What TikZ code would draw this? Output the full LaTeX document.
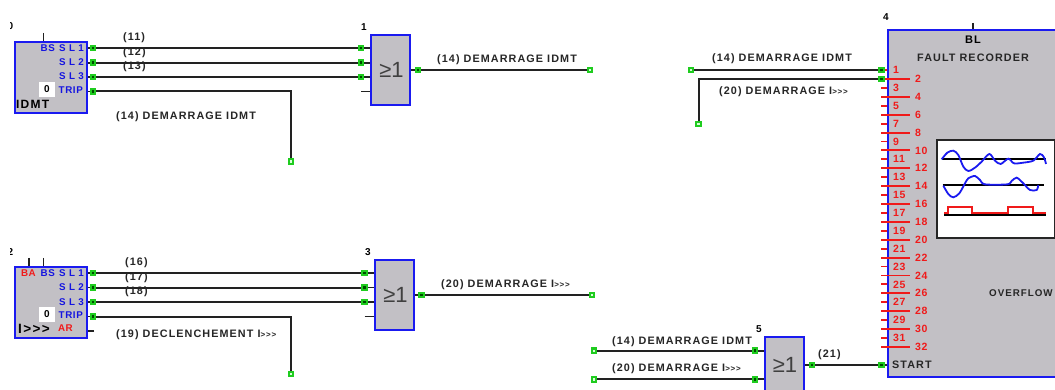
\documentclass[tikz,border=0pt]{standalone}
\usepackage{fontspec}
\setmainfont{Liberation Sans}
\newfontfamily\labfont[LetterSpace=10]{Liberation Sans Bold}
\newfontfamily\pinfont[LetterSpace=6]{Liberation Sans Bold}
\definecolor{blk}{HTML}{C2C0C5}
\definecolor{edgeblue}{HTML}{1A1AF0}
\definecolor{pinblue}{HTML}{1515E0}
\definecolor{pinred}{HTML}{F01A1A}
\definecolor{wire}{HTML}{222222}
\definecolor{pingreen}{HTML}{1FCC1F}
\newcommand{\ttt}{{\fontsize{8}{8}\selectfont >>>}}
\tikzset{
  x=1pt,y=-1pt,
  fblock/.style={draw=edgeblue,line width=2pt,fill=blk,inner sep=0pt,anchor=north west},
  wirel/.style={draw=wire,line width=2pt},
  stub/.style={draw=wire,line width=1.8pt},
  redstub/.style={draw=pinred,line width=1.9pt},
  pinsq/.style={rectangle,fill=pingreen,minimum size=6.5pt,inner sep=0pt,
    path picture={\fill[black!70!green] (-1.4pt,-1.4pt) rectangle (1.4pt,1.4pt);}},
  freeend/.style={rectangle,fill=pingreen,minimum size=6.5pt,inner sep=0pt,
    path picture={\fill[green!15] (-1.2pt,-1.2pt) rectangle (1.2pt,1.2pt);}},
  lab/.style={inner sep=0pt,anchor=west,text=black!85,font=\labfont\fontsize{10.8}{12}\selectfont},
  blue pin/.style={inner sep=0pt,anchor=east,text=pinblue,font=\pinfont\fontsize{9.8}{11}\selectfont},
  red pin/.style={inner sep=0pt,text=pinred,font=\pinfont\fontsize{10.5}{12}\selectfont},
  nr/.style={inner sep=0pt,text=black,font=\labfont\fontsize{10}{11}\selectfont},
  gatetxt/.style={inner sep=0pt,text=black!75,font=\fontsize{22}{24}\selectfont},
  zerobox/.style={fill=white,inner sep=0pt,minimum width=15.5pt,minimum height=15pt,text=black,font=\labfont\fontsize{10}{11}\selectfont},
  big/.style={inner sep=0pt,anchor=west,text=black,font=\labfont\fontsize{12}{13}\selectfont},
}
\begin{document}
\begin{tikzpicture}
\clip (0,0) rectangle (1055,390);
\fill[white] (0,0) rectangle (1055,390);

% ---- clipped block numbers at the left edge
\begin{scope}
  \clip (10,0) rectangle (20,390);
  \node[nr] (n0) at (10.5,26) {0};
  \node[nr] (n2) at (10.5,252) {2};
\end{scope}

% ---- block 0 (IDMT)
\draw[stub] (43.5,33) -- (43.5,41);
\node[fblock,minimum width=72pt,minimum height=71pt] (b0) at (14,41) {};
\node[zerobox] (z0) at (47,89.5) {0};
\node[blue pin] (t0a) at (55,48) {BS};
\node[blue pin] (t0b) at (84,48) {S L 1};
\node[blue pin] (t0c) at (84,62.5) {S L 2};
\node[blue pin] (t0d) at (84,76.5) {S L 3};
\node[blue pin] (t0e) at (83,90) {TRIP};
\node[big] (t0f) at (16,104) {IDMT};
\node[pinsq] (p01) at (93,48) {};
\node[pinsq] (p02) at (93,62.7) {};
\node[pinsq] (p03) at (93,77) {};
\node[pinsq] (p04) at (93,91.5) {};

% ---- gate 1
\node[nr] (n1) at (364,27) {1};
\node[fblock,minimum width=38.5pt,minimum height=70pt] (g1) at (370,34) {};
\node[gatetxt] (g1t) at (391.5,70) {≥1};
\node[pinsq] (g1a) at (361,48) {};
\node[pinsq] (g1b) at (361,62.7) {};
\node[pinsq] (g1c) at (361,77) {};
\node[pinsq] (g1o) at (418,70) {};
\node[freeend] (e1) at (590,70) {};
\coordinate (g1d) at (361,91.5);
\node[freeend] (e0) at (291,161.5) {};
\draw[wirel] (p01) -- (g1a);
\draw[wirel] (p02) -- (g1b);
\draw[wirel] (p03) -- (g1c);
\draw[wirel] (p04) -| (e0);
\draw[wirel] (g1o) -- (e1);
\draw[stub] (g1d) -- (g1d -| g1.west);
\foreach \p in {p01,p02,p03,p04} \draw[stub] (\p) -- (\p -| b0.east);
\foreach \p in {g1a,g1b,g1c} \draw[stub] (\p) -- (\p -| g1.west);
\draw[stub] (g1o) -- (g1o -| g1.east);
\node[lab] (l11) at (123,38) {(11)};
\node[lab] (l12) at (123,52.5) {(12)};
\node[lab] (l13) at (123,67) {(13)};
\node[lab] (l14a) at (116,117) {(14) DEMARRAGE IDMT};
\node[lab] (l14b) at (437,60) {(14) DEMARRAGE IDMT};

% ---- block 2 (I>>>)
\draw[stub] (29,258) -- (29,266);
\draw[stub] (43.5,258) -- (43.5,266);
\node[fblock,minimum width=72pt,minimum height=71pt] (b2) at (14,266) {};
\node[zerobox] (z2) at (47,314.5) {0};
\node[blue pin,text=pinred] (t2z) at (36,273) {BA};
\node[blue pin] (t2a) at (55,273) {BS};
\node[blue pin] (t2b) at (84,273) {S L 1};
\node[blue pin] (t2c) at (84,287.5) {S L 2};
\node[blue pin] (t2d) at (84,302) {S L 3};
\node[blue pin] (t2e) at (83,315) {TRIP};
\node[blue pin,text=pinred] (t2f) at (73,328.5) {AR};
\node[big,font=\labfont\fontsize{13.5}{14}\selectfont] (t2g) at (18,329) {I>>>};
\node[pinsq] (p21) at (93,273) {};
\node[pinsq] (p22) at (93,287.5) {};
\node[pinsq] (p23) at (93,302) {};
\node[pinsq] (p24) at (93,316.5) {};
\coordinate (p25) at (94,330.7);

% ---- gate 3
\node[nr] (n3) at (368,252) {3};
\node[fblock,minimum width=38.5pt,minimum height=70pt] (g3) at (374,259) {};
\node[gatetxt] (g3t) at (395.5,295) {≥1};
\node[pinsq] (g3a) at (364.7,273) {};
\node[pinsq] (g3b) at (364.7,287.5) {};
\node[pinsq] (g3c) at (364.7,302) {};
\node[pinsq] (g3o) at (421.7,295) {};
\node[freeend] (e3) at (592,295) {};
\coordinate (g3d) at (364.7,316.5);
\node[freeend] (e2) at (291,374) {};
\draw[wirel] (p21) -- (g3a);
\draw[wirel] (p22) -- (g3b);
\draw[wirel] (p23) -- (g3c);
\draw[wirel] (p24) -| (e2);
\draw[wirel] (g3o) -- (e3);
\draw[stub] (g3d) -- (g3d -| g3.west);
\draw[stub] (p25) -- (p25 -| b2.east);
\foreach \p in {p21,p22,p23,p24} \draw[stub] (\p) -- (\p -| b2.east);
\foreach \p in {g3a,g3b,g3c} \draw[stub] (\p) -- (\p -| g3.west);
\draw[stub] (g3o) -- (g3o -| g3.east);
\node[lab] (l16) at (125,263) {(16)};
\node[lab] (l17) at (125,277.5) {(17)};
\node[lab] (l18) at (125,292) {(18)};
\node[lab] (l19) at (116,335) {(19) DECLENCHEMENT I\ttt};
\node[lab] (l20a) at (441,285) {(20) DEMARRAGE I\ttt};

% ---- block 4 (fault recorder)
\draw[stub] (973,23) -- (973,29);
\node[nr] (n4) at (886,17) {4};
\node[fblock,minimum width=180pt,minimum height=346.7pt] (b4) at (887.3,29) {};
\node[nr,font=\labfont\fontsize{11}{12}\selectfont] (t4a) at (973,40) {BL};
\node[lab] (t4b) at (917,58) {FAULT RECORDER};
\node[lab,font=\labfont\fontsize{9.8}{11}\selectfont] (t4c) at (989,293) {OVERFLOW};
\node[lab] (t4d) at (892,365) {START};
\foreach \n in {1,3,...,31}{
  \pgfmathsetmacro{\py}{79+8.93*(\n-2)}
  \draw[redstub] (881,\py) -- (887,\py);
  \node[red pin,anchor=west] (r\n) at (893,\py) {\n};
}
\foreach \n in {2,4,...,32}{
  \pgfmathsetmacro{\py}{79+8.93*(\n-2)}
  \draw[redstub] (881,\py) -- (910,\py);
  \node[red pin,anchor=west] (r\n) at (915,\py) {\n};
}
\node[pinsq] (q1) at (881.7,70) {};
\node[pinsq] (q2) at (881.7,79) {};
\node[pinsq] (q3) at (881.7,365) {};
\draw[stub] (q3) -- (q3 -| b4.west);
\node[freeend] (e4) at (691,70) {};
\node[freeend] (e5) at (698.5,124) {};
\draw[wirel] (e4) -- (q1);
\draw[wirel] (e5) |- (q2);
\node[lab] (l14c) at (712,59) {(14) DEMARRAGE IDMT};
\node[lab] (l20b) at (719,92) {(20) DEMARRAGE I\ttt};

% recorder screen
\node[draw=black!85,line width=2pt,fill=white,inner sep=0pt,anchor=north west,minimum width=118pt,minimum height=98pt] (scr) at (936,139) {};
\begin{scope}[shift={(870,120)},x=0.3333pt,y=-0.3333pt]
  \draw[line width=1.7pt,black] (215,118) -- (528,118);
  \draw[line width=1.7pt,black] (218,195) -- (523,195);
  \draw[line width=1.9pt,black] (222,284) -- (528,284);
  \draw[line width=1.8pt,edgeblue] plot[smooth] coordinates {(215,118)(232,98)(250,92)(265,105)(280,140)(295,153)(315,143)(335,125)(358,102)(375,122)(392,132)(415,116)(432,130)(460,128)(490,122)(510,102)(522,112)(528,132)};
  \draw[line width=1.8pt,edgeblue] plot[smooth] coordinates {(220,197)(235,222)(250,232)(268,220)(285,190)(295,175)(315,168)(330,180)(345,193)(412,193)(425,183)(440,173)(460,190)(480,210)(500,210)(505,195)};
  \draw[line width=1.9pt,pinred] (222,280) -- (235,280) -- (235,260) -- (305,260) -- (305,280) -- (415,280) -- (415,260) -- (488,260) -- (488,280) -- (528,280);
\end{scope}

% ---- gate 5
\node[nr] (n5) at (759,329) {5};
\node[fblock,minimum width=38.5pt,minimum height=70pt] (g5) at (764,336) {};
\node[gatetxt] (g5t) at (785,365) {≥1};
\node[pinsq] (g5a) at (755,350.7) {};
\node[pinsq] (g5b) at (755,379.3) {};
\node[pinsq] (g5o) at (812,365) {};
\node[freeend] (e6) at (594,350.7) {};
\node[freeend] (e7) at (594,379.3) {};
\draw[wirel] (e6) -- (g5a);
\draw[wirel] (e7) -- (g5b);
\draw[wirel] (g5o) -- (q3);
\draw[stub] (g5a) -- (g5a -| g5.west);
\draw[stub] (g5b) -- (g5b -| g5.west);
\draw[stub] (g5o) -- (g5o -| g5.east);
\node[lab] (l14d) at (612,342) {(14) DEMARRAGE IDMT};
\node[lab] (l20c) at (612,369) {(20) DEMARRAGE I\ttt};
\node[lab] (l21) at (818,355) {(21)};
\end{tikzpicture}
\end{document}
